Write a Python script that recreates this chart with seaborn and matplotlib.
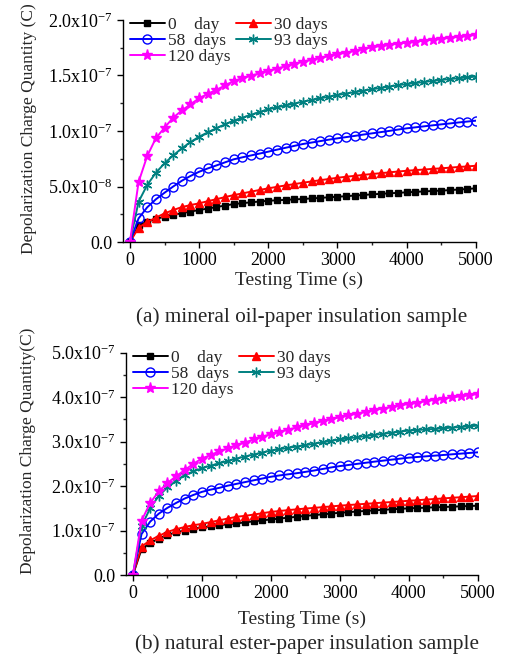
import numpy as np
import pandas as pd
import matplotlib
matplotlib.use("Agg")
import matplotlib.pyplot as plt
import seaborn as sns
from matplotlib.ticker import MultipleLocator, FuncFormatter

# ---------------- data ----------------
time_s = [i * 125 for i in range(41)]

labels = ["0    day", "30 days", "58  days", "93 days", "120 days"]

# (a) mineral oil-paper, units of 1e-8 C
a_0d = [0, 1.5, 1.83, 2.08, 2.28, 2.45, 2.6, 2.75, 2.88, 3.02, 3.15, 3.29, 3.42, 3.5, 3.58, 3.65,
        3.72, 3.76, 3.8, 3.84, 3.88, 3.93, 3.98, 4.03, 4.08, 4.13, 4.19, 4.24, 4.3, 4.34, 4.39,
        4.43, 4.48, 4.52, 4.56, 4.6, 4.63, 4.68, 4.73, 4.78, 4.84]
a_30d = [0, 1.3, 1.8, 2.2, 2.58, 2.88, 3.15, 3.33, 3.49, 3.68, 3.86, 4.05, 4.23, 4.38, 4.54, 4.69,
         4.84, 4.97, 5.1, 5.22, 5.34, 5.46, 5.57, 5.68, 5.79, 5.88, 5.96, 6.05, 6.13, 6.2, 6.28,
         6.35, 6.42, 6.48, 6.53, 6.59, 6.64, 6.7, 6.76, 6.81, 6.87]
a_58d = [0, 2.13, 3.13, 3.85, 4.44, 5.0, 5.52, 5.95, 6.33, 6.63, 6.9, 7.18, 7.45, 7.63, 7.8, 7.97,
         8.14, 8.32, 8.49, 8.66, 8.83, 8.96, 9.09, 9.22, 9.34, 9.45, 9.56, 9.68, 9.79, 9.9, 10.01,
         10.13, 10.24, 10.33, 10.42, 10.51, 10.6, 10.68, 10.77, 10.85, 10.93]
a_93d = [0, 3.63, 5.14, 6.24, 7.09, 7.8, 8.44, 9.0, 9.49, 9.88, 10.25, 10.6, 10.93, 11.2, 11.46, 11.71,
         11.95, 12.13, 12.3, 12.47, 12.64, 12.79, 12.94, 13.09, 13.24, 13.37, 13.5, 13.63, 13.76, 13.88, 14.0,
         14.12, 14.23, 14.32, 14.41, 14.51, 14.6, 14.68, 14.75, 14.83, 14.9]
a_120d = [0, 5.4, 7.75, 9.35, 10.3, 11.2, 11.85, 12.4, 12.95, 13.35, 13.7, 14.1, 14.5, 14.75, 14.98, 15.2,
          15.4, 15.62, 15.84, 16.05, 16.25, 16.42, 16.58, 16.74, 16.9, 17.06, 17.22, 17.38, 17.54, 17.65, 17.76,
          17.86, 17.96, 18.05, 18.13, 18.22, 18.3, 18.39, 18.48, 18.56, 18.65]

# (b) natural ester-paper, units of 1e-7 C
b_0d = [0, 0.58, 0.72, 0.82, 0.9, 0.96, 1.0, 1.04, 1.07, 1.095, 1.12, 1.14, 1.16, 1.185, 1.207, 1.23,
        1.25, 1.27, 1.29, 1.31, 1.33, 1.348, 1.365, 1.383, 1.40, 1.414, 1.428, 1.442, 1.455, 1.466, 1.478,
        1.489, 1.50, 1.508, 1.515, 1.523, 1.53, 1.537, 1.545, 1.552, 1.56]
b_30d = [0, 0.64, 0.78, 0.88, 0.97, 1.03, 1.08, 1.12, 1.15, 1.19, 1.23, 1.27, 1.31, 1.33, 1.36, 1.39,
         1.42, 1.44, 1.46, 1.478, 1.495, 1.51, 1.527, 1.543, 1.56, 1.574, 1.588, 1.601, 1.615, 1.629, 1.642,
         1.656, 1.67, 1.683, 1.697, 1.71, 1.723, 1.737, 1.75, 1.763, 1.777]
b_58d = [0, 0.92, 1.2, 1.38, 1.51, 1.62, 1.72, 1.8, 1.87, 1.92, 1.96, 2.01, 2.05, 2.09, 2.13, 2.17,
         2.21, 2.24, 2.265, 2.29, 2.32, 2.35, 2.385, 2.42, 2.45, 2.475, 2.5, 2.525, 2.55, 2.572, 2.595,
         2.617, 2.64, 2.655, 2.67, 2.685, 2.70, 2.715, 2.73, 2.745, 2.76]
b_93d = [0, 1.1, 1.5, 1.78, 1.97, 2.12, 2.25, 2.33, 2.40, 2.46, 2.51, 2.565, 2.62, 2.665, 2.71, 2.755,
         2.80, 2.83, 2.86, 2.89, 2.92, 2.953, 2.985, 3.018, 3.05, 3.075, 3.10, 3.125, 3.15, 3.175, 3.20,
         3.225, 3.25, 3.262, 3.275, 3.287, 3.30, 3.315, 3.33, 3.345, 3.36]
b_120d = [0, 1.22, 1.62, 1.88, 2.07, 2.22, 2.36, 2.5, 2.62, 2.7, 2.78, 2.85, 2.92, 2.98, 3.05, 3.11,
          3.17, 3.22, 3.27, 3.32, 3.37, 3.415, 3.46, 3.505, 3.55, 3.59, 3.63, 3.67, 3.71, 3.745, 3.78,
          3.815, 3.85, 3.88, 3.91, 3.94, 3.97, 3.995, 4.02, 4.045, 4.07]

captions = ["(a) mineral oil-paper insulation sample", "(b) natural ester-paper insulation sample"]
ylabels = ["Depolarization Charge Quantity (C)", "Depolarization Charge Quantity(C)"]
xlabel = "Testing Time (s)"

# ---------------- style ----------------
sns.set_style("ticks")
plt.rcParams["font.family"] = ["Liberation Serif", "DejaVu Serif"]
plt.rcParams["mathtext.fontset"] = "custom"
plt.rcParams["mathtext.rm"] = "Liberation Serif"
plt.rcParams["mathtext.it"] = "Liberation Serif:italic"

colors = ["#000000", "#ff0000", "#0000ff", "#008080", "#ff00ff"]
markers = ["s", "^", "o", (6, 2, 0), "*"]
msizes = [5, 6, 6.5, 7, 8]

fig = plt.figure(figsize=(5.07, 6.65), dpi=100)
ax_a = fig.add_axes([0.2426, 0.636, 0.696, 0.334])
ax_b = fig.add_axes([0.2485, 0.1353, 0.694, 0.3343])


def sci_fmt(v, pos):
    if abs(v) < 1e-15:
        return "0.0"
    e = int(np.floor(np.log10(abs(v)) + 1e-9))
    m = v / 10 ** e
    return f"{m:.1f}x10$^{{{e}}}$"


def draw(ax, series, scale, ymax, ymajor, yminor):
    for i, (vals, lab) in enumerate(zip(series, labels)):
        df = pd.DataFrame({"t": time_s, "q": np.array(vals) * scale})
        mfc = "none" if markers[i] == "o" else colors[i]
        sns.lineplot(data=df, x="t", y="q", ax=ax, color=colors[i], marker=markers[i],
                     markersize=msizes[i], markerfacecolor=mfc, markeredgecolor=colors[i],
                     markeredgewidth=1.0, linewidth=1.4, label=lab, legend=False)
    ax.set_xlim(-100, 5000)
    ax.set_ylim(0, ymax)
    ax.xaxis.set_major_locator(MultipleLocator(1000))
    ax.xaxis.set_minor_locator(MultipleLocator(500))
    ax.yaxis.set_major_locator(MultipleLocator(ymajor))
    ax.yaxis.set_minor_locator(MultipleLocator(yminor))
    ax.yaxis.set_major_formatter(FuncFormatter(sci_fmt))
    ax.tick_params(axis="both", which="major", direction="out", length=4.5, width=1,
                   labelsize=13, colors="black", pad=3)
    ax.tick_params(axis="both", which="minor", direction="out", length=2.5, width=1)
    for s in ["top", "right"]:
        ax.spines[s].set_visible(False)
    for s in ["left", "bottom"]:
        ax.spines[s].set_linewidth(1.0)
        ax.spines[s].set_color("black")
    ax.set_xlabel(xlabel, fontsize=14)
    h, l = ax.get_legend_handles_labels()
    order = [0, 2, 4, 1, 3]
    ax.legend([h[k] for k in order], [l[k] for k in order], ncol=2, frameon=False,
              loc="upper left", bbox_to_anchor=(0.0, 1.045), fontsize=12.5,
              handlelength=2.0, handletextpad=0.2, columnspacing=0.3, labelspacing=0.0,
              borderaxespad=0.0)


draw(ax_a, [a_0d, a_30d, a_58d, a_93d, a_120d], 1e-8, 2.0e-7, 5e-8, 2.5e-8)
draw(ax_b, [b_0d, b_30d, b_58d, b_93d, b_120d], 1e-7, 5.0e-7, 1e-7, 5e-8)

ax_a.set_ylabel(ylabels[0], fontsize=12.5)
ax_b.set_ylabel(ylabels[1], fontsize=12.5)
ax_a.yaxis.set_label_coords(-0.245, 0.51)
ax_b.yaxis.set_label_coords(-0.256, 0.56)
ax_a.xaxis.set_label_coords(0.5, -(280 - 242) / 222)
ax_b.xaxis.set_label_coords(0.5, -(619 - 575) / 222.3)
ax_a.xaxis.label.set_va("center")
ax_b.xaxis.label.set_va("center")

fig.text(0.595, 1 - 317.5 / 665, captions[0], ha="center", va="center", fontsize=15.3)
fig.text(0.605, 1 - 644 / 665, captions[1], ha="center", va="center", fontsize=15.3)

fig.savefig("out.png", dpi=100)
